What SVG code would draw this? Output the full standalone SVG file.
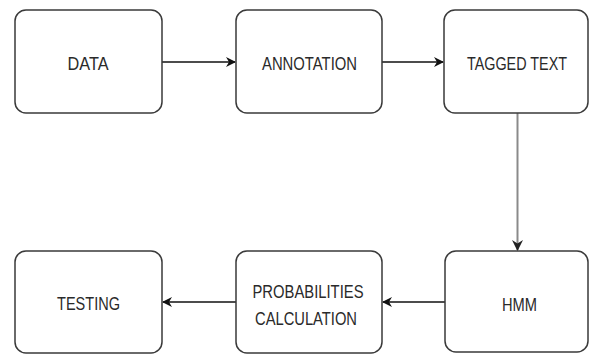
<svg xmlns="http://www.w3.org/2000/svg" width="590" height="354" viewBox="0 0 590 354">
<defs>
<style>
.box{fill:#fff;stroke:#3a3a3a;stroke-width:1.5}
.lbl{font-family:"Liberation Sans",Arial,sans-serif;font-size:19px;fill:#2a2a2a;text-anchor:middle}
.edge{fill:none;stroke:#111;stroke-width:1.6}
.gray{stroke:#8a8a8a;stroke-width:2}
</style>
<marker id="ah" viewBox="0 0 10 10" refX="9" refY="5" markerWidth="10" markerHeight="10" markerUnits="userSpaceOnUse" orient="auto">
<path d="M0,0 L10,5 L0,10 L3,5 Z" fill="#111"/>
</marker>
<marker id="ahv" viewBox="0 0 10 10" refX="9" refY="5" markerWidth="11" markerHeight="11" markerUnits="userSpaceOnUse" orient="auto">
<path d="M0,0 L10,5 L0,10 L3,5 Z" fill="#222"/>
</marker>
</defs>
<rect width="590" height="354" fill="#fff"/>
<g id="connectors">
<path class="edge" d="M162,62 L235,62" marker-end="url(#ah)"/>
<path class="edge" d="M382,62 L443,62" marker-end="url(#ah)"/>
<path class="edge gray" d="M517.5,113 L517.5,250" marker-end="url(#ahv)"/>
<path class="edge" d="M445,302 L383,302" marker-end="url(#ah)"/>
<path class="edge" d="M236,302 L163,302" marker-end="url(#ah)"/>
</g>
<g id="data">
<rect class="box" x="15" y="10" width="147" height="103" rx="11"/>
<text class="lbl" x="88" y="70" textLength="41" lengthAdjust="spacingAndGlyphs">DATA</text>
</g>
<g id="annotation">
<rect class="box" x="236" y="10" width="146" height="103" rx="11"/>
<text class="lbl" x="309.5" y="70" textLength="95" lengthAdjust="spacingAndGlyphs">ANNOTATION</text>
</g>
<g id="tagged-text">
<rect class="box" x="444" y="10" width="144" height="103" rx="11"/>
<text class="lbl" x="517" y="70" textLength="100" lengthAdjust="spacingAndGlyphs">TAGGED TEXT</text>
</g>
<g id="testing">
<rect class="box" x="15" y="251" width="147" height="102" rx="11"/>
<text class="lbl" x="88.5" y="310" textLength="63" lengthAdjust="spacingAndGlyphs">TESTING</text>
</g>
<g id="probabilities-calculation">
<rect class="box" x="236" y="251" width="146" height="102" rx="11"/>
<text class="lbl" x="308" y="298" textLength="111" lengthAdjust="spacingAndGlyphs">PROBABILITIES</text>
<text class="lbl" x="306" y="325" textLength="102" lengthAdjust="spacingAndGlyphs">CALCULATION</text>
</g>
<g id="hmm">
<rect class="box" x="445" y="251" width="143" height="101" rx="11"/>
<text class="lbl" x="519.5" y="311" textLength="35" lengthAdjust="spacingAndGlyphs">HMM</text>
</g>
</svg>
